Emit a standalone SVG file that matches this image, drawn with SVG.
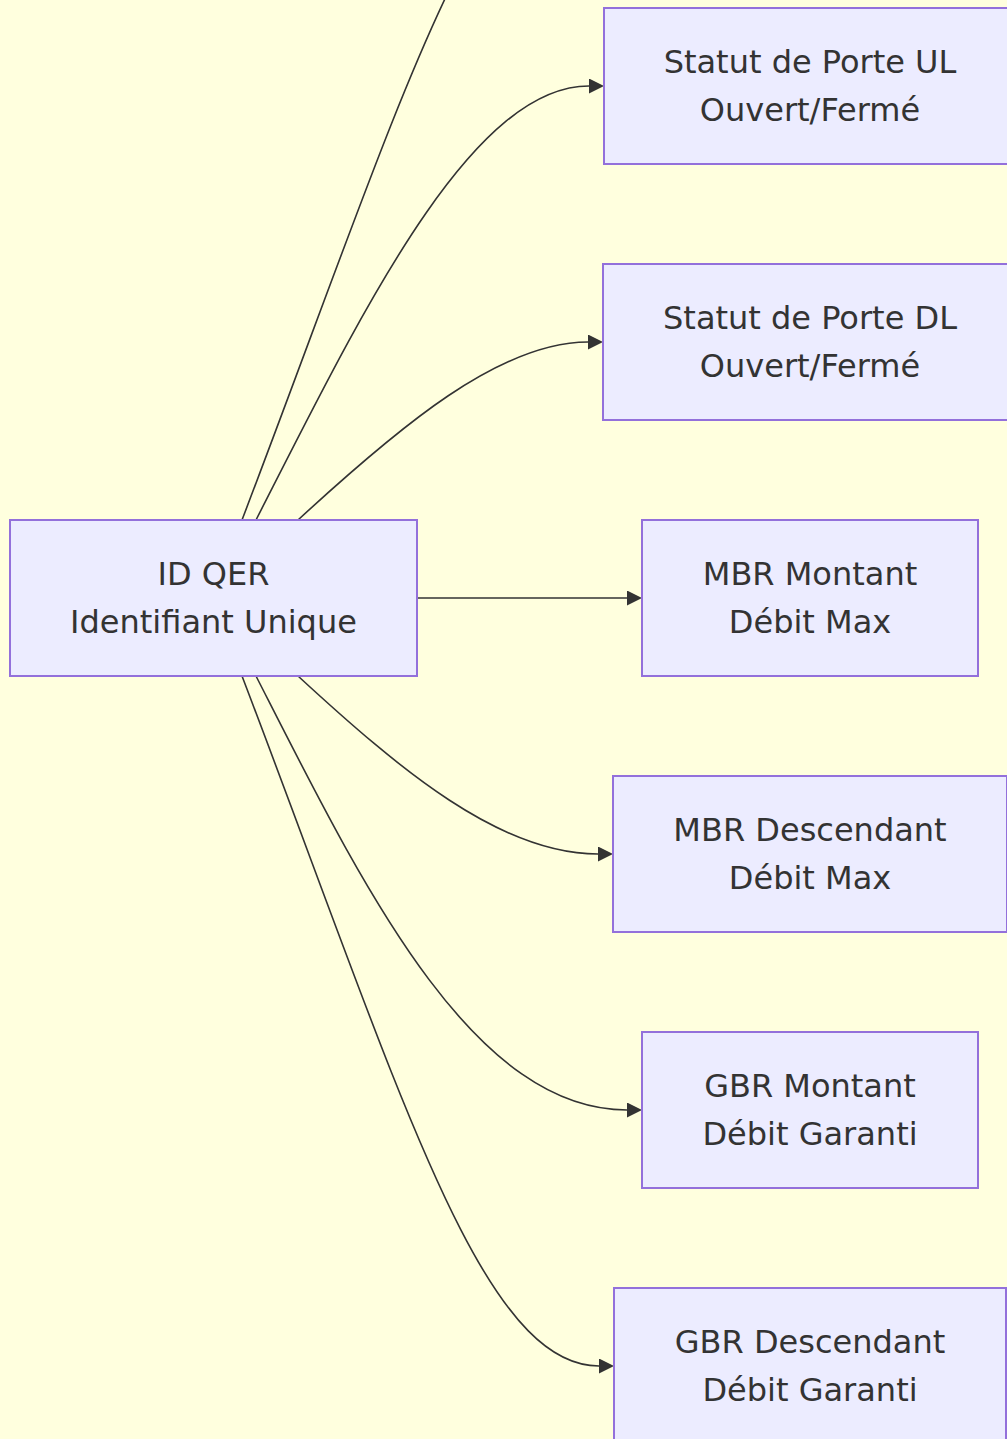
<svg xmlns="http://www.w3.org/2000/svg" width="1007" height="1439" viewBox="0 0 1007 1439">
<style>
.bg{fill:#FFFFDE}
.node rect{fill:#ECECFF;stroke:#9370DB;stroke-width:2}
.node text{font-family:"DejaVu Sans","Liberation Sans",sans-serif;font-size:32px;fill:#333;text-anchor:middle;dominant-baseline:central}
.edge{fill:none;stroke:#333;stroke-width:1.6}
</style>
<defs>
<marker id="arrow" viewBox="0 0 10 10" refX="0" refY="5" markerWidth="15" markerHeight="15" markerUnits="userSpaceOnUse" orient="auto">
<path d="M0,0 L10,5 L0,10 z" fill="#333"/>
</marker>
</defs>
<rect class="bg" x="0" y="0" width="1007" height="1439"/>
<g id="connectors">
<path class="edge" d="M242,520 C400,106 480,-170 600,-170" marker-end="url(#arrow)"/>
<path class="edge" d="M256,520 C360,316 470,86 589,86" marker-end="url(#arrow)"/>
<path class="edge" d="M298,520 C400,426 500,342 588,342" marker-end="url(#arrow)"/>
<path class="edge" d="M417,598 L627,598" marker-end="url(#arrow)"/>
<path class="edge" d="M298,676 C400,770 500,854 598,854" marker-end="url(#arrow)"/>
<path class="edge" d="M256,676 C360,880 470,1110 627,1110" marker-end="url(#arrow)"/>
<path class="edge" d="M242,676 C400,1090 480,1366 599,1366" marker-end="url(#arrow)"/>
</g>
<g id="idqer" class="node"><rect x="10" y="520" width="407" height="156"/><text x="213.5" y="574">ID QER</text><text x="213.5" y="622">Identifiant Unique</text></g>
<g id="ul" class="node"><rect x="604" y="8" width="414" height="156"/><text x="810" y="62">Statut de Porte UL</text><text x="810" y="110">Ouvert/Fermé</text></g>
<g id="dl" class="node"><rect x="603" y="264" width="414" height="156"/><text x="810" y="318">Statut de Porte DL</text><text x="810" y="366">Ouvert/Fermé</text></g>
<g id="mbrul" class="node"><rect x="642" y="520" width="336" height="156"/><text x="810" y="574">MBR Montant</text><text x="810" y="622">Débit Max</text></g>
<g id="mbrdl" class="node"><rect x="613" y="776" width="394" height="156"/><text x="810" y="830">MBR Descendant</text><text x="810" y="878">Débit Max</text></g>
<g id="gbrul" class="node"><rect x="642" y="1032" width="336" height="156"/><text x="810" y="1086">GBR Montant</text><text x="810" y="1134">Débit Garanti</text></g>
<g id="gbrdl" class="node"><rect x="614" y="1288" width="392" height="156"/><text x="810" y="1342">GBR Descendant</text><text x="810" y="1390">Débit Garanti</text></g>
</svg>
